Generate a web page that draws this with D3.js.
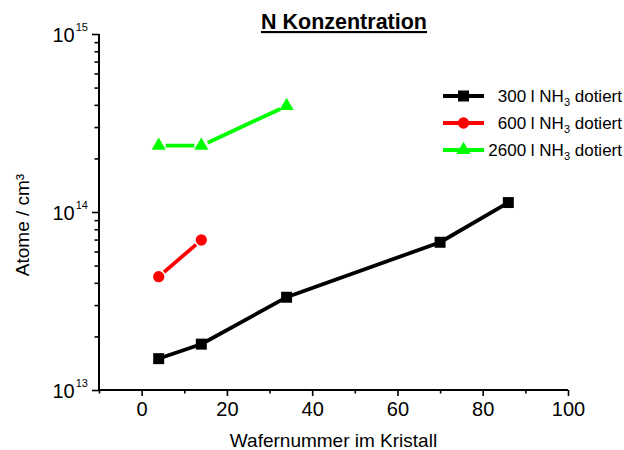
<!DOCTYPE html>
<html>
<head>
<meta charset="utf-8">
<script src="https://cdn.jsdelivr.net/npm/d3@7"></script>
<style>
  html, body { margin: 0; padding: 0; background: #fff; }
  svg { display: block; font-family: "Liberation Sans", Arial, sans-serif; }
</style>
</head>
<body>
<svg id="chart" width="624" height="450"></svg>
<script>
// ---- data ----
const title = "N Konzentration";
const xTitle = "Wafernummer im Kristall";
const yTitle = "Atome / cm³";

const wafer300 = [4, 14, 34, 70, 86];
const conc300 = [1.50e13, 1.81e13, 3.32e13, 6.76e13, 1.13e14];
const wafer600 = [4, 14];
const conc600 = [4.33e13, 6.96e13];
const wafer2600 = [4, 14, 34];
const conc2600 = [2.36e14, 2.36e14, 3.94e14];

const seriesNames = ["300", "600", "2600"];
const xTickValues = [0, 20, 40, 60, 80, 100];
const xMinorTickValues = [-10, 10, 30, 50, 70, 90];
const yDecades = [13, 14, 15];

// ---- layout ----
const svg = d3.select("#chart");
const x = d3.scaleLinear().domain([-10, 100]).range([99, 568]);
const y = d3.scaleLog().domain([1e13, 1e15]).range([390, 34]);

const series = [
  { name: seriesNames[0], xs: wafer300, ys: conc300, color: "#000000", symbol: d3.symbolSquare, size: 121, gap: 5 },
  { name: seriesNames[1], xs: wafer600, ys: conc600, color: "#ff0000", symbol: d3.symbolCircle, size: 100, gap: 7 },
  { name: seriesNames[2], xs: wafer2600, ys: conc2600, color: "#00ff00", symbol: d3.symbolTriangle, size: 88, gap: 7 }
];

// ---- axes ----
const axisG = svg.append("g");
axisG.append("line").attr("x1", x(-10)).attr("x2", x(100)).attr("y1", y(1e13)).attr("y2", y(1e13))
  .attr("stroke", "#000").attr("stroke-width", 2);
axisG.append("line").attr("x1", x(-10)).attr("x2", x(-10)).attr("y1", y(1e13)).attr("y2", y(1e15))
  .attr("stroke", "#000").attr("stroke-width", 2);

const xAxis = d3.axisBottom(x).tickValues(xTickValues).tickSize(6).tickPadding(6).tickFormat(d3.format("d"));
const gx = svg.append("g").attr("transform", `translate(0,${y(1e13)})`).call(xAxis);
gx.select(".domain").remove();
gx.selectAll(".tick line").attr("stroke-width", 1.6);
gx.selectAll(".tick text").attr("font-size", 20).attr("font-family", "Liberation Sans, Arial, sans-serif").attr("fill", "#000");
const xMinor = d3.axisBottom(x).tickValues(xMinorTickValues).tickSize(3.5).tickFormat("");
const gxm = svg.append("g").attr("transform", `translate(0,${y(1e13)})`).call(xMinor);
gxm.select(".domain").remove();
gxm.selectAll(".tick line").attr("stroke-width", 1.6);

const majorVals = yDecades.map(e => Math.pow(10, e));
const minorVals = [];
[13, 14].forEach(e => { for (let m = 2; m <= 9; m++) minorVals.push(m * Math.pow(10, e)); });
const yAxisMajor = d3.axisLeft(y).tickValues(majorVals).tickSize(7).tickFormat("");
const gy = svg.append("g").attr("transform", `translate(${x(-10)},0)`).call(yAxisMajor);
gy.select(".domain").remove();
gy.selectAll(".tick line").attr("stroke-width", 1.6);
const yAxisMinor = d3.axisLeft(y).tickValues(minorVals).tickSize(4.5).tickFormat("");
const gym = svg.append("g").attr("transform", `translate(${x(-10)},0)`).call(yAxisMinor);
gym.select(".domain").remove();
gym.selectAll(".tick line").attr("stroke-width", 1.6);

yDecades.forEach(e => {
  const t = svg.append("text")
    .attr("x", 52.5).attr("y", y(Math.pow(10, e)) + 8)
    .attr("font-size", 20).attr("fill", "#000");
  t.append("tspan").text("10");
  t.append("tspan").attr("font-size", 11).attr("dx", 1).attr("dy", -11).text(String(e));
});

// ---- titles ----
svg.append("text").attr("x", 344).attr("y", 29).attr("text-anchor", "middle")
  .attr("font-size", 21.5).attr("font-weight", "bold").attr("text-decoration", "underline")
  .text(title);
svg.append("text").attr("x", (x(-10) + x(100)) / 2).attr("y", 447).attr("text-anchor", "middle")
  .attr("font-size", 19).text(xTitle);
svg.append("text").attr("transform", "translate(29,225) rotate(-90)").attr("text-anchor", "middle")
  .attr("font-size", 19).text(yTitle);

// ---- series ----
series.forEach(s => {
  const pts = s.xs.map((xv, i) => [x(xv), y(s.ys[i])]);
  const g = svg.append("g");
  for (let i = 0; i < pts.length - 1; i++) {
    const [x1, y1] = pts[i], [x2, y2] = pts[i + 1];
    const dx = x2 - x1, dy = y2 - y1, L = Math.hypot(dx, dy);
    const ux = dx / L, uy = dy / L;
    g.append("line")
      .attr("x1", x1 + ux * s.gap).attr("y1", y1 + uy * s.gap)
      .attr("x2", x2 - ux * s.gap).attr("y2", y2 - uy * s.gap)
      .attr("stroke", s.color).attr("stroke-width", 3.8);
  }
  g.selectAll("path").data(pts).enter().append("path")
    .attr("transform", d => `translate(${d[0]},${d[1]})`)
    .attr("d", d3.symbol().type(s.symbol).size(s.size))
    .attr("fill", s.color);
});

// ---- legend ----
const legendRows = [96, 123, 150];
series.forEach((s, i) => {
  const ly = legendRows[i];
  const g = svg.append("g");
  g.append("line").attr("x1", 443).attr("x2", 484).attr("y1", ly).attr("y2", ly)
    .attr("stroke", s.color).attr("stroke-width", 3.8);
  g.append("path").attr("transform", `translate(463.5,${ly})`)
    .attr("d", d3.symbol().type(s.symbol).size(s.size)).attr("fill", s.color);
  const t = g.append("text").attr("x", 622).attr("y", ly + 6).attr("text-anchor", "end")
    .attr("font-size", 17).attr("fill", "#000");
  t.append("tspan").text(s.name + " l NH");
  t.append("tspan").attr("font-size", 11).attr("dy", 4).text("3");
  t.append("tspan").attr("dy", -4).text(" dotiert");
});
</script>
</body>
</html>
